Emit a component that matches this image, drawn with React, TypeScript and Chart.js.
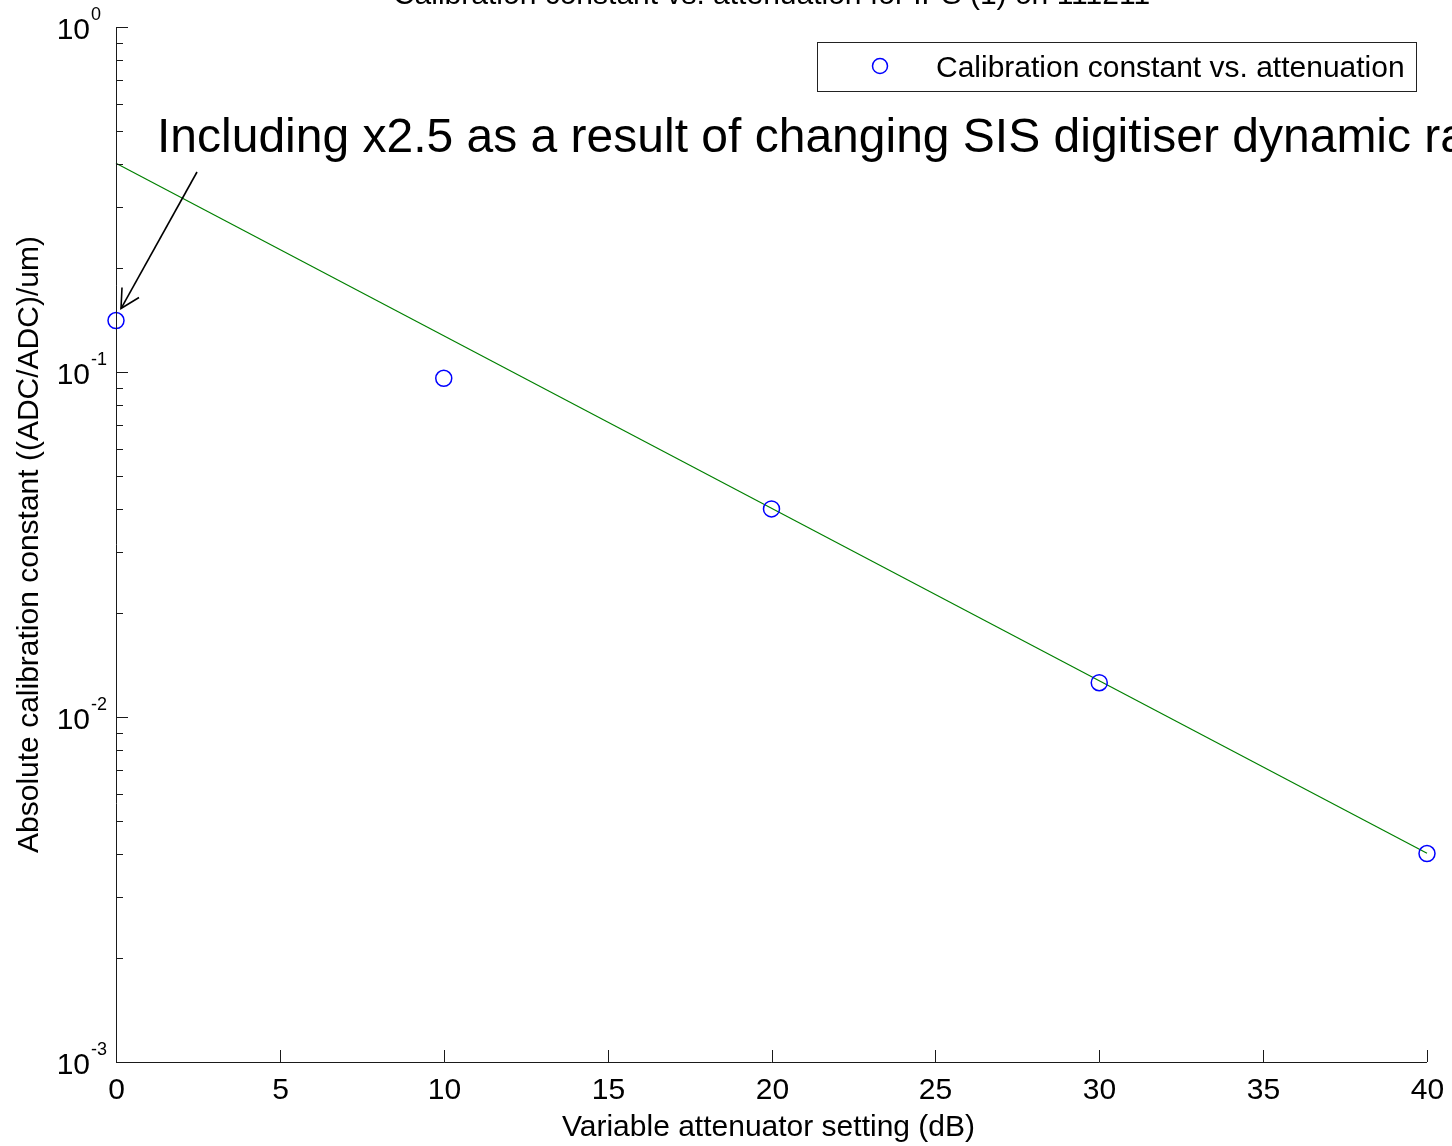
import React, { useEffect, useRef } from "react";
import { Chart, registerables } from "chart.js";

Chart.register(...registerables);

// ---- data ----
const attenuation = [0, 10, 20, 30, 40];
const calibration = [0.141, 0.0959, 0.0401, 0.01257, 0.00402];
const fitX = [0, 40];
const fitY = [0.403, 0.00403];
const xTickValues = [0, 5, 10, 15, 20, 25, 30, 35, 40];
const yDecadeExponents = [0, -1, -2, -3];
const minorMultipliers = [2, 3, 4, 5, 6, 7, 8, 9];

const titleText = "Calibration constant vs. attenuation for IPS (1) on 111211";
const xTitle = "Variable attenuator setting (dB)";
const yTitle = "Absolute calibration constant ((ADC/ADC)/um)";
const legendLabel = "Calibration constant vs. attenuation";
const annotationText = "Including x2.5 as a result of changing SIS digitiser dynamic range";

const FONT = '"Liberation Sans", Arial, Helvetica, sans-serif';
const AXIS_COLOR = "#1a1a1a";
const MARKER_COLOR = "#0000ff";
const FIT_COLOR = "rgb(0,128,0)";

const decorPlugin = {
  id: "matlabDecor",
  afterDraw(chart: any) {
    const ctx = chart.ctx as CanvasRenderingContext2D;
    const xs = chart.scales.x;
    const ys = chart.scales.y;
    const area = chart.chartArea;
    ctx.save();

    // axes lines
    ctx.strokeStyle = AXIS_COLOR;
    ctx.lineWidth = 1;
    ctx.beginPath();
    ctx.moveTo(area.left + 0.5, area.top);
    ctx.lineTo(area.left + 0.5, area.bottom + 0.5);
    ctx.lineTo(area.right, area.bottom + 0.5);
    ctx.stroke();

    // x ticks (inward)
    ctx.fillStyle = "#000";
    ctx.font = `30px ${FONT}`;
    ctx.textAlign = "center";
    ctx.textBaseline = "alphabetic";
    xTickValues.forEach((v) => {
      const px = Math.round(xs.getPixelForValue(v)) + 0.5;
      ctx.beginPath();
      ctx.moveTo(px, area.bottom);
      ctx.lineTo(px, area.bottom - 12);
      ctx.stroke();
      ctx.fillText(String(v), px, area.bottom + 37);
    });

    // y ticks: majors + minors
    yDecadeExponents.forEach((e) => {
      const base = Math.pow(10, e);
      const py = Math.round(ys.getPixelForValue(base)) + 0.5;
      ctx.beginPath();
      ctx.moveTo(area.left, py);
      ctx.lineTo(area.left + 12, py);
      ctx.stroke();
      ctx.font = `30px ${FONT}`;
      ctx.textAlign = "right";
      ctx.fillText("10", area.left - 26, py + 11);
      ctx.font = `18px ${FONT}`;
      ctx.textAlign = "left";
      ctx.fillText(String(e), area.left - 25, py - 8);
      if (e > -3) {
        minorMultipliers.forEach((m) => {
          const mv = (base / 10) * m;
          const my = Math.round(ys.getPixelForValue(mv)) + 0.5;
          ctx.beginPath();
          ctx.moveTo(area.left, my);
          ctx.lineTo(area.left + 7, my);
          ctx.stroke();
        });
      }
    });

    // axis titles
    ctx.font = `30px ${FONT}`;
    ctx.textAlign = "center";
    ctx.fillText(xTitle, (area.left + area.right) / 2 - 3, area.bottom + 74);
    ctx.save();
    ctx.translate(38, (area.top + area.bottom) / 2);
    ctx.rotate(-Math.PI / 2);
    ctx.fillText(yTitle, 0, 0);
    ctx.restore();

    // title (partly cut off at top)
    ctx.fillText(titleText, (area.left + area.right) / 2 + 0, 4);

    // legend
    ctx.strokeStyle = "#222";
    ctx.lineWidth = 1;
    ctx.fillStyle = "#fff";
    ctx.fillRect(817, 42, 599, 49);
    ctx.strokeRect(817.5, 42.5, 599, 49);
    ctx.strokeStyle = MARKER_COLOR;
    ctx.lineWidth = 1.5;
    ctx.beginPath();
    ctx.arc(880, 66, 7.5, 0, Math.PI * 2);
    ctx.stroke();
    ctx.fillStyle = "#000";
    ctx.textAlign = "left";
    ctx.font = `30px ${FONT}`;
    ctx.fillText(legendLabel, 936, 77);

    // annotation text and arrow
    ctx.font = `48px ${FONT}`;
    ctx.fillText(annotationText, 157, 152);
    const tipX = xs.getPixelForValue(attenuation[0]) + 5;
    const tipY = ys.getPixelForValue(calibration[0]) - 12;
    ctx.strokeStyle = "#000";
    ctx.lineWidth = 1.6;
    ctx.beginPath();
    ctx.moveTo(197, 172);
    ctx.lineTo(tipX, tipY);
    ctx.stroke();
    ctx.beginPath();
    ctx.moveTo(tipX + 1, tipY - 21);
    ctx.lineTo(tipX, tipY);
    ctx.lineTo(tipX + 18, tipY - 11);
    ctx.stroke();

    ctx.restore();
  },
};

export default function App() {
  const ref = useRef<HTMLCanvasElement | null>(null);
  useEffect(() => {
    document.body.style.margin = "0";
    if (!ref.current) return;
    const chart = new Chart(ref.current, {
      type: "scatter",
      data: {
        datasets: [
          {
            label: legendLabel,
            data: attenuation.map((x, i) => ({ x, y: calibration[i] })),
            showLine: false,
            pointStyle: "circle",
            pointRadius: 8,
            pointHoverRadius: 8,
            pointBorderWidth: 1.5,
            borderColor: MARKER_COLOR,
            pointBorderColor: MARKER_COLOR,
            backgroundColor: "rgba(0,0,0,0)",
            pointBackgroundColor: "rgba(0,0,0,0)",
            clip: false as any,
            order: 1,
          },
          {
            label: "fit",
            data: fitX.map((x, i) => ({ x, y: fitY[i] })),
            showLine: true,
            borderColor: FIT_COLOR,
            borderWidth: 1.2,
            pointRadius: 0,
            fill: false,
            clip: false as any,
            order: 2,
          },
        ],
      },
      options: {
        animation: false,
        responsive: false,
        devicePixelRatio: 1,
        events: [],
        layout: { padding: { left: 116, right: 25, top: 27, bottom: 84 } },
        scales: {
          x: { type: "linear", min: 0, max: 40, display: false },
          y: { type: "logarithmic", min: 0.001, max: 1, display: false },
        },
        plugins: {
          legend: { display: false },
          tooltip: { enabled: false },
          title: { display: false },
        },
      },
      plugins: [decorPlugin],
    });
    return () => chart.destroy();
  }, []);
  return (
    <div style={{ position: "absolute", left: 0, top: 0, width: 1452, height: 1146, background: "#fff" }}>
      <canvas ref={ref} width={1452} height={1146} style={{ width: 1452, height: 1146 }} />
    </div>
  );
}
